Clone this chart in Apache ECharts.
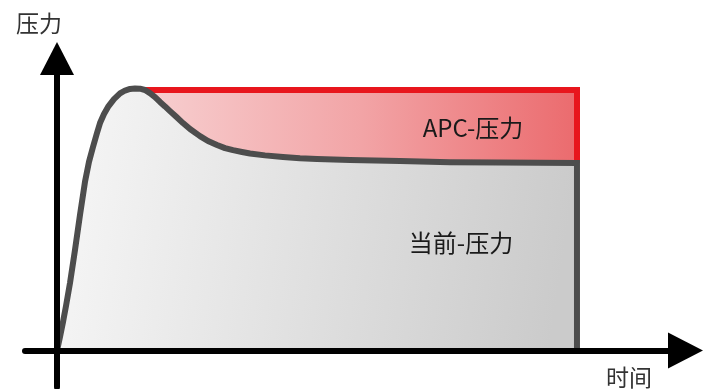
<!DOCTYPE html>
<html>
<head>
<meta charset="utf-8">
<script src="https://cdn.jsdelivr.net/npm/echarts@6/dist/echarts.min.js"></script>
<style>
html,body{margin:0;padding:0;background:#fff;}
#chart{width:714px;height:389px;}
</style>
</head>
<body>
<div id="chart"></div>
<script>
// ---- data (time in arbitrary units, pressure in % of APC level) ----
const currentTime = [0, 0.58, 1.15, 1.73, 2.5, 3.46, 4.42, 5.38, 6.15, 6.92, 7.69, 8.27, 9.04, 9.81, 10.96, 12.12, 13.08, 14.04, 15.0, 15.96, 16.92, 17.88, 18.85, 19.81, 20.77, 21.73, 22.88, 24.23, 25.58, 27.5, 29.04, 30.77, 32.31, 33.85, 35.58, 37.12, 40.0, 43.46, 46.73, 50.0, 56.35, 65.96, 75.58, 85.19, 100];
const currentPressure = [0, 5.2, 10.9, 17.1, 25.9, 38.6, 52.0, 64.7, 72.4, 78.1, 83.5, 87.3, 90.8, 93.5, 96.5, 98.7, 99.8, 100.4, 100.6, 100.5, 100.0, 98.8, 97.3, 95.4, 93.7, 91.9, 89.8, 87.3, 85.0, 82.3, 80.4, 78.9, 77.7, 76.9, 76.2, 75.6, 74.9, 74.3, 73.8, 73.5, 73.1, 72.7, 72.3, 72.2, 72.0];
const endTime = 100;
const apcTime = [16.92, 100, 100];
const apcPressure = [100, 100, 72.0];
const labelTexts = ['APC-压力', '当前-压力'];
const axisTitles = ['压力', '时间'];

const pairs = (xs, ys) => xs.map((x, i) => [x, ys[i]]);

const chart = echarts.init(document.getElementById('chart'), null, {renderer: 'canvas'});
const font = '"Noto Sans CJK SC", "Noto Sans", sans-serif';

chart.setOption({
  animation: false,
  backgroundColor: '#ffffff',
  grid: {left: 25, right: 28.5, top: 58.5, bottom: 2, outerBoundsMode: 'none', containLabel: false},
  xAxis: {
    type: 'value', min: -6.154, max: 120.87, z: 5,
    axisLine: {show: true, onZero: true, symbol: ['none', 'triangle'], symbolSize: [36, 35],
      lineStyle: {color: '#000', width: 6}},
    axisTick: {show: false}, axisLabel: {show: false}, splitLine: {show: false}
  },
  yAxis: {
    type: 'value', min: -14.01, max: 112.09, z: 5,
    axisLine: {show: true, onZero: true, symbol: ['none', 'triangle'], symbolSize: [34, 33],
      lineStyle: {color: '#000', width: 6}},
    axisTick: {show: false}, axisLabel: {show: false}, splitLine: {show: false}
  },
  series: [
    {
      type: 'line', name: 'APC-压力', data: pairs(apcTime, apcPressure),
      showSymbol: false, smooth: false,
      lineStyle: {color: '#e8161d', width: 6, join: 'miter', cap: 'butt'},
      areaStyle: {opacity: 1, color: new echarts.graphic.LinearGradient(0, 0, 1, 0, [
        {offset: 0, color: '#f7cfd0'},
        {offset: 0.5, color: '#f2a4a6'},
        {offset: 1, color: '#eb6b6e'}
      ])},
      z: 2
    },
    {
      type: 'line', name: '当前-压力', data: pairs(currentTime, currentPressure),
      showSymbol: false, smooth: false,
      lineStyle: {color: '#4d4d4d', width: 6, join: 'round', cap: 'butt'},
      areaStyle: {opacity: 1, color: new echarts.graphic.LinearGradient(0, 0, 1, 0.3, [
        {offset: 0, color: '#f7f7f7'},
        {offset: 1, color: '#cbcbcb'}
      ])},
      z: 3
    },
    {
      type: 'line', name: 'edge', data: [[endTime, currentPressure[currentPressure.length - 1]], [endTime, 0]],
      showSymbol: false,
      lineStyle: {color: '#4d4d4d', width: 6, cap: 'square'},
      z: 3
    }
  ],
  graphic: [
    {type: 'text', x: 473, y: 128, z: 10, style: {text: labelTexts[0], fill: '#1a1a1a', font: '24px ' + font, align: 'center', verticalAlign: 'middle'}},
    {type: 'text', x: 461, y: 243, z: 10, style: {text: labelTexts[1], fill: '#1a1a1a', font: '24px ' + font, align: 'center', verticalAlign: 'middle'}},
    {type: 'text', x: 39, y: 23, z: 10, style: {text: axisTitles[0], fill: '#333', font: '23px ' + font, align: 'center', verticalAlign: 'middle'}},
    {type: 'text', x: 629, y: 377, z: 10, style: {text: axisTitles[1], fill: '#333', font: '23px ' + font, align: 'center', verticalAlign: 'middle'}}
  ]
});
</script>
</body>
</html>
